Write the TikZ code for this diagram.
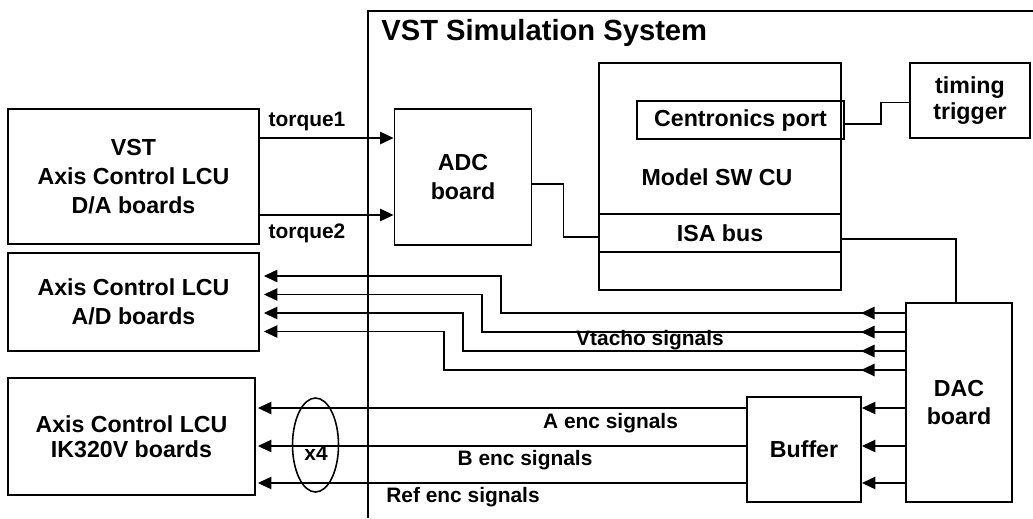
\documentclass[tikz,border=0pt]{standalone}
\usepackage{fontspec}
\setmainfont{Liberation Sans}
\usetikzlibrary{arrows.meta,shapes.geometric}

\newcommand{\boxfont}{\bfseries\fontsize{13.2}{16.3}\selectfont}
\newcommand{\lblfont}{\bfseries\fontsize{11.9}{14}\selectfont}
\newcommand{\ttlfont}{\bfseries\fontsize{16.6}{20}\selectfont}

\tikzset{
  blk/.style={draw, line width=1.1pt, align=center, font=\boxfont, inner sep=0pt},
  lbl/.style={font=\lblfont, inner sep=0pt},
  wire/.style={line width=0.7pt},
  sig/.style={wire, -{Triangle[length=0.27cm,width=0.25cm]}}
}

\begin{document}
\begin{tikzpicture}[x=0.02cm, y=-0.02cm]
  \useasboundingbox (0,0) rectangle (1033,518);

  % simulation system frame
  \draw[line width=1.1pt] (368,518) |- (1033,11);
  \node[anchor=west, font=\ttlfont, inner sep=0pt] (title) at (381,33) {VST Simulation System};

  % boxes
  \node[blk, minimum width=5.02cm, minimum height=2.70cm] (vst) at (133.5,176.5) {VST\\Axis Control LCU\\D/A boards};
  \node[blk, minimum width=5.02cm, minimum height=1.96cm] (ad) at (133.5,302) {Axis Control LCU\\A/D boards};
  \node[blk, minimum width=4.94cm, minimum height=2.34cm, font=\bfseries\fontsize{13.2}{14.5}\selectfont] (ik) at (131.5,436.5) {Axis Control LCU\\IK320V boards};
  \node[blk, minimum width=2.74cm, minimum height=2.72cm] (adc) at (463,177) {ADC\\board};
  \node[blk, minimum width=4.84cm, minimum height=3.02cm] (model) at (720,138.5) {};
  \node[font=\boxfont, inner sep=0pt] (modeltxt) at (717,177) {Model SW CU};
  \node[blk, minimum width=4.84cm, minimum height=0.76cm] (isa) at (720,233) {ISA bus};
  \node[blk, minimum width=4.84cm, minimum height=0.76cm] (spare) at (720,271) {};
  \node[blk, minimum width=4.14cm, minimum height=0.76cm] (cen) at (740.5,120) {Centronics port};
  \node[blk, minimum width=2.40cm, minimum height=1.50cm, font=\bfseries\fontsize{13.2}{14.5}\selectfont] (tim) at (970,100.5) {timing\\trigger};
  \node[blk, minimum width=2.12cm, minimum height=3.98cm] (dac) at (959,402.5) {DAC\\board};
  \node[blk, minimum width=2.28cm, minimum height=2.10cm] (buf) at (804,449.5) {Buffer};
  \node[draw, line width=0.9pt, ellipse, minimum width=0.92cm, minimum height=1.88cm, inner sep=0pt] (bundle) at (315.5,445) {};
  \node[lbl] (x4) at (316,453) {x4};

  % torque signals
  \draw[sig] ([yshift=0.77cm]vst.east) -- ([yshift=0.77cm]vst.east -| adc.west);
  \draw[sig] ([yshift=-0.77cm]vst.east) -- ([yshift=-0.77cm]vst.east -| adc.west);
  \node[lbl] (tq1) at (307,121) {torque1};
  \node[lbl] (tq2) at (307,233) {torque2};

  % buses
  \draw[wire] ([yshift=-0.14cm]adc.east) -- ++(0.62cm,0) |- ([yshift=-0.08cm]isa.west);
  \draw[wire] ([yshift=-0.12cm]isa.east) -| ([xshift=-0.06cm]dac.north);
  \draw[wire] ([yshift=-0.08cm]cen.east) -- ++(0.72cm,0) |- ([yshift=-0.04cm]tim.west);

  % Vtacho signals
  \foreach \i/\b in {0/501,1/482,2/463,3/444} {
    \coordinate (vd\i) at ([yshift={(1.79-0.38*\i)*1cm}]dac.west);
    \coordinate (va\i) at ([yshift={(0.52-0.37*\i)*1cm}]ad.east);
    \coordinate (vb\i) at (\b,0);
    \draw[sig, shorten >=0.08cm] (vd\i) -- (vd\i -| vb\i) |- (va\i);
    \draw[sig] (vd\i) -- ++(-0.88cm,0);
  }
  \node[lbl] (vtacho) at (650,340) {Vtacho signals};

  % encoder signals
  \foreach \n/\ys in {a/0.83,b/0.07,r/-0.67} {
    \coordinate (e\n) at ([yshift=\ys cm]buf.west);
    \draw[sig, shorten >=0.04cm] (e\n) -- (e\n -| ik.east);
    \draw[sig] (e\n -| dac.west) -- (e\n -| buf.east);
  }
  \node[lbl] (aenc) at (610.5,423) {A enc signals};
  \node[lbl] (benc) at (525,460) {B enc signals};
  \node[lbl] (renc) at (463,497) {Ref enc signals};
\end{tikzpicture}
\end{document}
